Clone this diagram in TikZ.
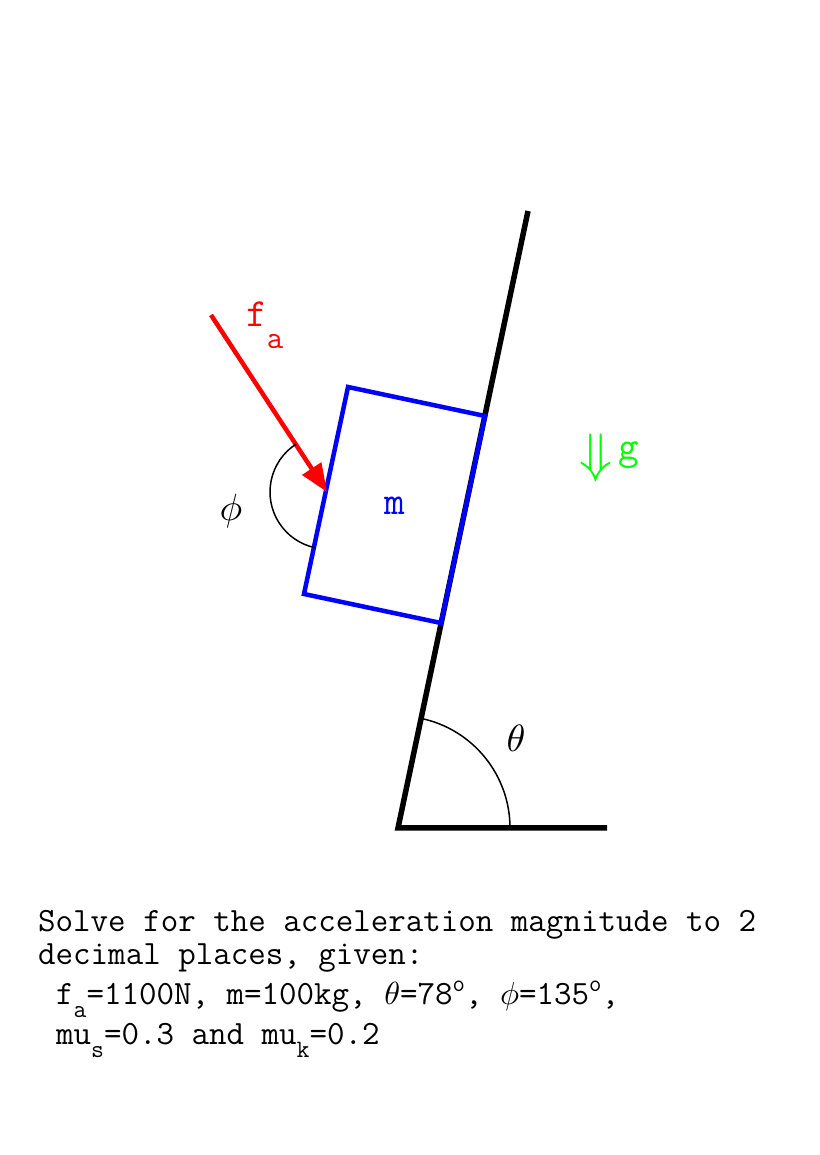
\documentclass[tikz,border=0pt]{standalone}
\usepackage{fontspec}
\usetikzlibrary{arrows.meta}
\tikzstyle{incline}=[draw,line width=5.5pt]
\tikzstyle{block}=[draw=blue,line width=4.5pt]
\tikzstyle{force}=[draw=red,line width=4.5pt,-{Triangle[length=28pt,width=22pt]}]
\tikzstyle{anglearc}=[draw,line width=1.5pt]
\tikzstyle{labeltext}=[inner sep=0pt,font=\ttfamily\fontsize{40}{40}\selectfont]
\tikzstyle{angletext}=[inner sep=0pt,scale=3.8]
\tikzstyle{question}=[inner sep=0pt,anchor=base west,font=\ttfamily\fontsize{34}{34}\selectfont]
\newcommand{\lowsub}[2][-13pt]{\raisebox{#1}{\fontsize{25}{25}\selectfont #2}}
\newcommand{\degsup}{\raisebox{13pt}{\fontsize{24}{24}\selectfont o}}
\newcommand{\bigmath}[1]{{\normalsize\scalebox{3.2}{$#1$}}}

\begin{document}
\begin{tikzpicture}[x=1pt,y=1pt]
    \useasboundingbox[fill=white] (0,0) rectangle (819,1155);

    \foreach \name/\x/\y in {O/398/327, H/607/327, T/528/944, ftail/211/840, ftip/327/663,
        b1/485/739, b2/348/768, b3/304/561, b4/441/532}
        \coordinate (\name) at (\x,\y);

    % incline and block on it
    \draw[incline] (T) -- (O) -- (H);
    \draw[block] (b1) -- (b2) -- (b3) -- (b4) -- cycle;
    \draw[force] (ftail) -- (ftip);

    % angles
    \path[anglearc] (O) ++(0:112) arc[start angle=0,end angle=78,radius=112];
    \path[anglearc] (ftip) ++(123:57) arc[start angle=123,end angle=258,radius=57];
    \node[angletext] (thetalabel) at (516,417) {$\theta$};
    \node[angletext] (philabel) at (231,644) {$\phi$};

    \node[labeltext,blue] (mass) at (395,649) {m};
    \node[labeltext,red,anchor=base west] (falabel) at (246,828)
        {f\lowsub[-22pt]{\fontsize{32}{32}\selectfont a}};
    \node[inner sep=0pt,green,scale=5.4] (garrow) at (596,697) {$\Downarrow$};
    \node[labeltext,green,anchor=base west] (glabel) at (618,695) {g};

    % question text
    \node[question] (line1) at (38,223) {Solve for the acceleration magnitude to 2};
    \node[question] (line2) at (38,190) {decimal places, given:};
    \node[question] (line3) at (56,150)
        {f\lowsub{a}=1100N, m=100kg, \bigmath{\theta}=78\degsup, \bigmath{\phi}=135\degsup,};
    \node[question] (line4) at (56,110) {mu\lowsub{s}=0.3 and mu\lowsub{k}=0.2};
\end{tikzpicture}
\end{document}
